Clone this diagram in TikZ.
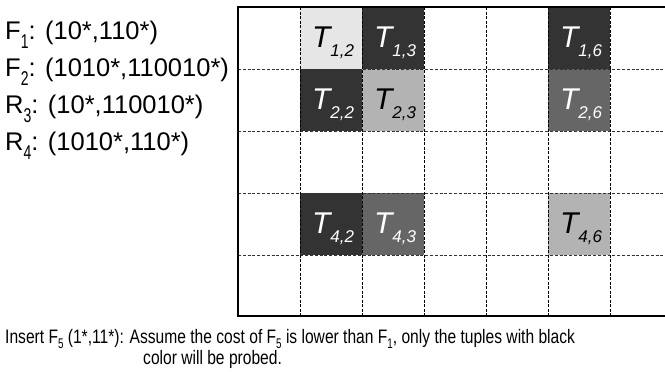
\documentclass[tikz,border=0pt]{standalone}
\usepackage{fontspec}
\setmainfont{Liberation Sans}
\newfontfamily\narrowfont[FakeStretch=0.8]{Liberation Sans}
\newfontfamily\subfont[FakeStretch=0.7]{Liberation Sans}
\newcommand{\lsub}[1]{\raisebox{-9pt}{\subfont\fontsize{20}{20}\selectfont #1}}
\newcommand{\bsub}[1]{\raisebox{-5pt}{\subfont\fontsize{14}{14}\selectfont #1}}
\newcommand{\tlab}[1]{{\fontsize{30}{30}\selectfont\itshape T}\raisebox{-9.5pt}{\fontsize{17}{17}\selectfont\itshape #1}}
\definecolor{darkc}{HTML}{333333}
\definecolor{midc}{HTML}{666666}
\definecolor{greyc}{HTML}{B3B3B3}
\definecolor{lightc}{HTML}{E6E6E6}
\tikzset{
  hdash/.style={draw=black!80, line width=0.9pt, dash pattern=on 3pt off 1.8pt},
  vdash/.style={draw=black, line width=0.8pt, dash pattern=on 3pt off 1.5pt},
  border/.style={draw=black, line width=1.6pt},
  lefttxt/.style={anchor=base west, inner sep=0pt, font=\fontsize{25.5}{26}\selectfont},
  bottxt/.style={anchor=base west, inner sep=0pt, align=left, font=\narrowfont\fontsize{19.5}{20.5}\selectfont},
  tnode/.style={anchor=base, inner sep=0pt}
}
\begin{document}
\begin{tikzpicture}[x=1pt, y=-1pt]
\useasboundingbox (0,0) rectangle (665,372);
% coloured cells
\foreach \r/\c/\col/\tc in {1/2/lightc/black, 1/3/darkc/white, 1/6/darkc/white,
  2/2/darkc/white, 2/3/greyc/black, 2/6/midc/white,
  4/2/darkc/white, 4/3/midc/white, 4/6/greyc/black}{
  \fill[\col] ({176+62*\c},{62*\r-55}) rectangle ++(62,62);
  \node[tnode, text=\tc] (t\r\c) at ({176+62*\c+33},{62*\r-55+40}) {\tlab{\r,\c}};
}
% grid
\foreach \y in {69,131,193,255} \draw[hdash] (238,\y) -- (665,\y);
\foreach \x in {300,362,424,486,548,610} \draw[vdash] (\x,7) -- (\x,316);
\draw[border] (665,7) -- (238,7) -- (238,316) -- (665,316);
% left labels
\node[lefttxt] (f1) at (5,39.5) {F\lsub{1}: (10*,110*)};
\node[lefttxt] (f2) at (5,76.5) {F\lsub{2}: (1010*,110010*)};
\node[lefttxt] (r3) at (5,113.5) {R\lsub{3}: (10*,110010*)};
\node[lefttxt] (r4) at (5,150.5) {R\lsub{4}: (1010*,110*)};
% bottom caption
\node[bottxt] (ins) at (5,364) {Insert F\bsub{5} (1*,11*): Assume the cost of F\bsub{5} is lower than F\bsub{1}, only the tuples with black\\\hspace*{138pt}color will be probed.};
\end{tikzpicture}
\end{document}
